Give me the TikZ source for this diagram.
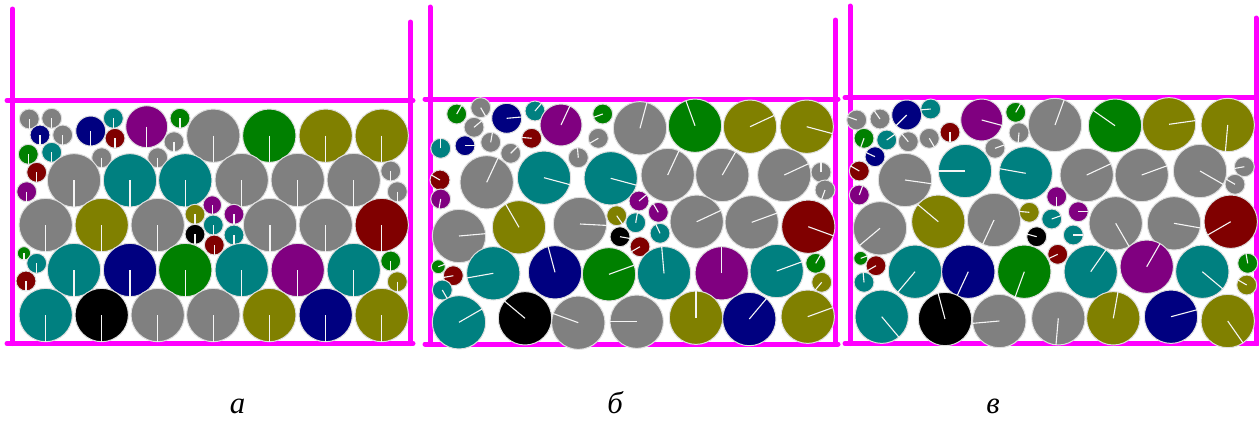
\documentclass[tikz,border=0pt]{standalone}
\usepackage{fontspec}
\newfontfamily\cyrfont{Liberation Serif}
\usepackage{xcolor}

\definecolor{cgray}{RGB}{128,128,128}
\definecolor{cteal}{RGB}{0,128,128}
\definecolor{cnavy}{RGB}{0,0,128}
\definecolor{cmaroon}{RGB}{128,0,0}
\definecolor{cpurple}{RGB}{128,0,128}
\definecolor{colive}{RGB}{128,128,0}
\definecolor{cgreen}{RGB}{0,128,0}
\definecolor{cblack}{RGB}{0,0,0}
\definecolor{cmag}{RGB}{255,0,255}
\colorlet{crim}{white!75!gray}

% one ball: x, y, radius, colour, angle of its white radius (screen degrees)
\newcommand{\ball}[5]{%
  \fill[#4, draw=crim, line width=0.2mm] (#1,#2) circle[radius=#3];
  \draw[spoke] (#1,#2) -- ++({-(#5)}:#3);}

\begin{document}
\begin{tikzpicture}[
        x=0.2mm, y=-0.2mm,
        spoke/.style={white!92!gray, line width=0.22mm},
        wall/.style={cmag, line width=1mm, line cap=round},
        caption/.style={font=\cyrfont\itshape\fontsize{17.5}{20}\selectfont, inner sep=0pt}
    ]
        \useasboundingbox (0,0) rectangle (1259,420);

        % Containers
        \draw[wall] (12.5,9) -- (12.5,343.5);
        \draw[wall] (410.5,22) -- (410.5,343.5);
        \draw[wall] (7,100.5) -- (413,100.5);
        \draw[wall] (7,343.5) -- (413,343.5);

        \draw[wall] (430,7) -- (430,344);
        \draw[wall] (835.5,20) -- (835.5,344);
        \draw[wall] (425,99) -- (838,99);
        \draw[wall] (425,344) -- (838,344);

        \draw[wall] (850,6) -- (850,343.5);
        \draw[wall] (1256,18) -- (1256,343.5);
        \draw[wall] (845,97.5) -- (1258,97.5);
        \draw[wall] (845,343.5) -- (1258,343.5);

        % Panel a: loose packing, every radius points down
        \foreach \x/\y/\r/\c in {
            29.3/119/10/cgray, 51.7/118.3/10/cgray, 40/135/10/cnavy, 62.7/135/10/cgray,
            90.7/131/15/cnavy, 113.3/118.3/10/cteal, 115/138.3/10/cmaroon, 146.7/126.7/21/cpurple,
            180/118.3/10/cgreen, 174/141.7/10/cgray, 213.3/135.7/26.7/cgray,
            28.3/154.3/10/cgreen, 51.7/152.3/10/cteal, 101.7/157.7/10/cgray, 157.7/157.7/10/cgray,
            36.7/172.3/10/cmaroon, 26.7/191.7/10/cpurple,
            74/180.3/26.7/cgray, 130/180.3/26.7/cteal, 185.3/180.3/26.7/cteal,
            45.7/225/26.7/cgray, 101.7/225/26.7/colive, 157.7/225/26.7/cgray,
            195/214.3/10/colive, 195/234.3/10/cblack, 212.3/205/9.3/cpurple,
            213.3/225/10/cteal, 214.3/245/10/cmaroon,
            24/253.3/6.7/cgreen, 36.7/263.3/10/cteal, 26/281/10/cmaroon,
            74/270/26.7/cteal, 130/270/26.7/cnavy, 185.3/270/26.7/cgreen,
            45.7/315/26.7/cteal, 101.7/315/26.7/cblack, 157.7/315/26.7/cgray, 213.3/315/26.7/cgray,
            269.3/135.7/26.7/cgreen, 325.7/135.7/26.7/colive, 381.7/135.7/26.7/colive,
            241.7/180/26.7/cgray, 297.7/180/26.7/cgray, 353.7/180/26.7/cgray,
            390.7/171/10/cgray, 397.3/191.7/10/cgray,
            234/214.3/10/cpurple, 234/235/10/cteal,
            270/225/26.7/cgray, 325.7/225/26.7/cgray, 381.7/225/26.7/cmaroon,
            241.7/270/26.7/cteal, 297.7/270/26.7/cpurple, 353.7/270/26.7/cteal,
            390.7/261/10/cgreen, 397.3/281.7/10/colive,
            269.3/315/26.7/colive, 325.7/315/26.7/cnavy, 381.7/315/26.7/colive}
            {\ball{\x}{\y}{\r}{\c}{-90}}

        % Panel b: packed, radii turned
        \foreach \x/\y/\r/\c/\a in {
            456.7/114/10/cgreen/60, 480.7/107.7/10/cgray/-60, 506.7/118.3/15/cnavy/5,
            535/111/10/cteal/50, 561/125/21/cpurple/65, 602.7/114/10/cgreen/200,
            640/128.3/26.7/cgray/75, 474/127.3/10/cgray/40, 465/145.7/10/cnavy/0,
            490.7/142.3/10/cgray/80, 531.7/138.3/10/cmaroon/175, 598.3/138.3/10/cgray/210,
            440.7/148.3/10/cteal/90, 510.7/153.3/10/cgray/45, 578.3/157.7/10/cgray/95,
            486.7/182.3/26.7/cgray/65, 544/177.7/26.7/cteal/-15, 610.7/178.3/26.7/cteal/-15,
            440/180/10/cmaroon/150, 440.7/199/10/cpurple/-100,
            459/236/26.7/cgray/5, 519/227.3/26.7/colive/120, 580/224/26.7/cgray/-3,
            616.7/215.7/10/colive/-55, 620/236.7/10/cblack/-10,
            639/201/10/cpurple/40, 658.3/212.3/10/cpurple/120, 635.7/222.7/10/cteal/80,
            660/233.3/10/cteal/115, 640/246.7/10/cmaroon/-150,
            438.3/266.7/7/cgreen/20, 453.3/275.7/10/cmaroon/190, 442.3/290/10/cteal/-60,
            493.3/273.3/26.7/cteal/-170, 555/272.3/26.7/cnavy/105, 609/274.3/26.7/cgreen/20,
            459/322.3/26.7/cteal/30, 525/318.3/26.7/cblack/140, 578.3/322.7/26.7/cgray/160,
            636.7/321.7/26.7/cgray/180,
            695/125.7/26.7/cgreen/110, 750/126.7/26.7/colive/25, 806.7/126.7/26.7/colive/-15,
            667.7/175/26.7/cgray/65, 722.3/175/26.7/cgray/60, 784.3/175/26.7/cgray/25,
            821/172.3/10/cgray/90, 825/190/10/cgray/-110,
            696.7/221.7/26.7/cgray/25, 751.7/222.3/26.7/cgray/20, 808.3/226.7/26.7/cmaroon/-20,
            664/273.3/26.7/cteal/95, 721.7/273.3/26.7/cpurple/90, 776.7/271/26.7/cteal/20,
            815.7/263.3/10/cgreen/60, 821.7/282.3/10/colive/-130,
            696/317.7/26.7/colive/90, 749.3/319/26.7/cnavy/50, 807.7/316.7/26.7/colive/20}
            {\ball{\x}{\y}{\r}{\c}{\a}}

        % Panel c
        \foreach \x/\y/\r/\c/\a in {
            856.7/120/10/cgray/160, 880/119/10/cgray/125, 906.7/115/15/cnavy/225,
            930.7/109/10/cteal/185, 981.7/120/21/cpurple/-15, 1015.7/112.3/10/cgreen/60,
            1055/125/26.7/cgray/70, 864/138.3/10/cgreen/-110, 886.7/140/10/cteal/35,
            908.3/141.7/10/cgray/130, 929.3/138.3/10/cgray/-60, 950/132.3/10/cmaroon/-90,
            1019/132.7/10/cgray/-95, 995/148.3/10/cgray/20, 875/156.7/10/cnavy/155,
            859.3/171/10/cmaroon/150, 859.3/195/10/cpurple/70,
            905/180/26.7/cgray/-8, 965/171/26.7/cteal/180, 1025.7/173.3/26.7/cteal/170,
            880/228.3/26.7/cgray/-140, 938.3/221.7/26.7/colive/140, 994/220/26.7/cgray/-115,
            1029.3/212.3/10/colive/175, 1036.7/236.7/10/cblack/165,
            1056.7/196.7/10/cpurple/-90, 1078.3/211.7/10/cpurple/0, 1051.7/219/10/cteal/20,
            1073.3/235/10/cteal/0, 1057.7/254.3/10/cmaroon/-155,
            860.7/258.3/7/cgreen/20, 876/265.7/10/cmaroon/-150, 864/282.3/10/cteal/95,
            915/271.7/26.7/cteal/-130, 968.3/271.7/26.7/cnavy/-115, 1024.3/271.7/26.7/cgreen/-110,
            881.7/316.7/26.7/cteal/-50, 945/319/26.7/cblack/105, 999.3/321/26.7/cgray/-175,
            1058.3/318.3/26.7/cgray/-95,
            1115/125.7/26.7/cgreen/145, 1169/124.3/26.7/colive/8, 1227.7/125/26.7/colive/-95,
            1086.7/175/26.7/cgray/25, 1141.7/175/26.7/cgray/20, 1200/171/26.7/cgray/-30,
            1244.3/166.7/10/cgray/190, 1235/184.3/10/cgray/150,
            1115.7/223.3/26.7/cgray/-60, 1174/223.3/26.7/cgray/-10, 1230.7/221.7/26.7/cmaroon/-150,
            1090.7/271.7/26.7/cteal/55, 1146.7/266.7/26.7/cpurple/60, 1202.3/271.7/26.7/cteal/-40,
            1247.7/263.3/10/cgreen/100, 1246.7/285/10/colive/150,
            1113.3/318.3/26.7/colive/80, 1171/316.7/26.7/cnavy/15, 1227.7/321/26.7/colive/-55}
            {\ball{\x}{\y}{\r}{\c}{\a}}

        % Captions
        \node[caption] (lbla) at (237.5,406) {а};
        \node[caption] (lblb) at (615,403) {б};
        \node[caption] (lblc) at (993,406) {в};

    \end{tikzpicture}
\end{document}
